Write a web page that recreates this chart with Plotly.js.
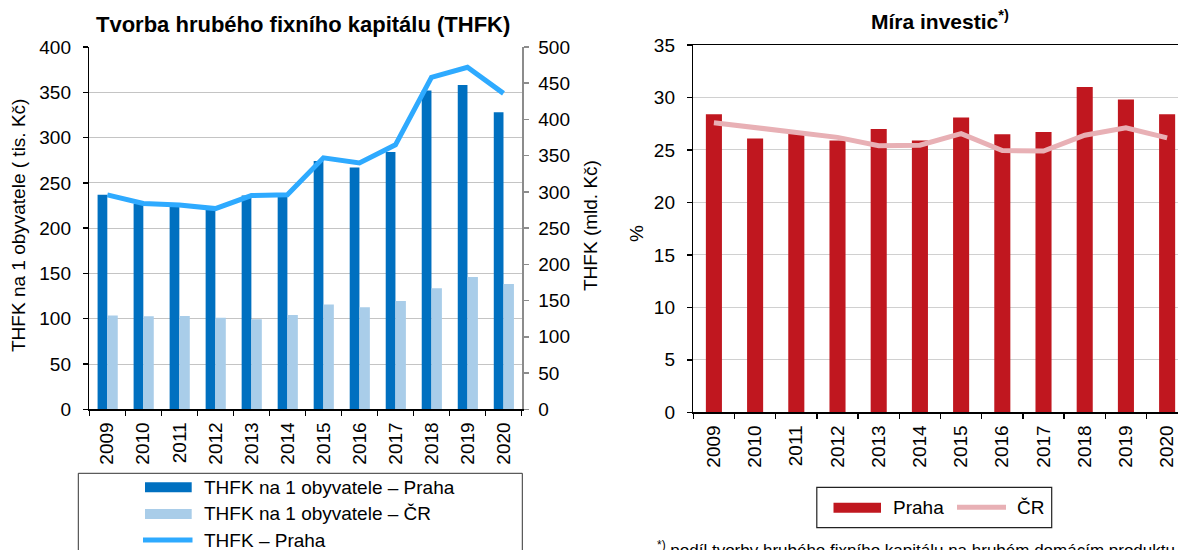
<!DOCTYPE html>
<html><head><meta charset="utf-8">
<script src="https://cdn.plot.ly/plotly-3.0.1.min.js"></script>
<style>html,body{margin:0;padding:0;background:#fff}#chart{width:1178px;height:550px}</style>
</head><body><div id="chart"></div>
<script>
const years = ['2009','2010','2011','2012','2013','2014','2015','2016','2017','2018','2019','2020'];
const thfkPerCapitaPraha = [237, 227, 225, 221, 236, 237, 274, 267, 284, 352, 358, 328];
const thfkPerCapitaCR = [103.5, 102.8, 103, 101, 99.5, 104, 115.6, 112.7, 119.7, 133.6, 146, 138.4];
const thfkPraha = [296, 284, 282, 277, 295, 296, 347, 340, 365, 458, 472, 436];
const investPraha = [28.4, 26.1, 26.6, 25.9, 27.0, 25.9, 28.1, 26.5, 26.7, 31.0, 29.8, 28.4];
const investCR = [27.6, 27.1, 26.7, 26.2, 25.4, 25.45, 26.55, 24.95, 24.9, 26.4, 27.1, 26.15];

const leftTitle = 'Tvorba hrubého fixního kapitálu (THFK)';
const rightTitle = 'Míra investic<sup>*)</sup>';
const leftYTitle = 'THFK na 1 obyvatele ( tis. Kč)';
const rightYTitle = 'THFK (mld. Kč)';
const pctTitle = '%';
const legendLeft = ['THFK na 1 obyvatele – Praha', 'THFK na 1 obyvatele – ČR', 'THFK – Praha'];
const legendRight = ['Praha', 'ČR'];
const footnote = '<sup>*)</sup> podíl tvorby hrubého fixního kapitálu na hrubém domácím produktu';

const W = 1178, H = 550;
const px = v => v / W;
const py = v => 1 - v / H;
const FONT = 'Liberation Sans, Arial, sans-serif';
const C_DARK = '#0070c0', C_LIGHT = '#a9cde9', C_LINE = '#2eaaff', C_RED = '#c0171f', C_PINK = '#e8b0b5';

const traces = [
  {type:'bar', x: years, y: thfkPerCapitaPraha, xaxis:'x', yaxis:'y', marker:{color:C_DARK}, width:0.27, offset:-0.27, hoverinfo:'y'},
  {type:'bar', x: years, y: thfkPerCapitaCR, xaxis:'x', yaxis:'y', marker:{color:C_LIGHT}, width:0.29, offset:0, hoverinfo:'y'},
  {type:'scatter', mode:'lines', x: years, y: thfkPraha, xaxis:'x', yaxis:'y2', line:{color:C_LINE, width:5}},
  {type:'bar', x: years, y: investPraha, xaxis:'x3', yaxis:'y3', marker:{color:C_RED}, width:0.39, offset:-0.195},
  {type:'scatter', mode:'lines', x: years, y: investCR, xaxis:'x3', yaxis:'y3', line:{color:C_PINK, width:5}}
];

const tickFont = {family: FONT, size: 19, color: '#000'};
const layout = {
  width: W, height: H,
  margin: {l:0, r:0, t:0, b:0},
  paper_bgcolor: '#fff', plot_bgcolor: 'rgba(0,0,0,0)',
  showlegend: false,
  barmode: 'overlay',
  font: {family: FONT, size: 19, color: '#000'},
  xaxis: {domain:[px(89.3), px(521.5)], type:'category', range:[-0.5, 11.5], anchor:'y',
    showline:true, linecolor:'#000', linewidth:1.5, ticks:'outside', tickson:'boundaries', ticklen:5, tickcolor:'#000', tickwidth:1.5,
    tickangle:-90, tickfont:tickFont, showgrid:false, ticklabelstandoff:4},
  yaxis: {domain:[py(409.3), py(47)], range:[0,400], dtick:50, anchor:'x',
    showline:true, linecolor:'#000', linewidth:1.5, ticks:'outside', ticklen:5, tickcolor:'#000', tickwidth:1.5,
    gridcolor:'#c4c4c4', gridwidth:1, zeroline:false, tickfont:tickFont, ticklabelstandoff:8},
  yaxis2: {overlaying:'y', side:'right', anchor:'x', range:[0,500], dtick:50,
    showline:true, linecolor:'#8c8c8c', linewidth:2, ticks:'outside', ticklen:5, tickcolor:'#8c8c8c', tickwidth:1.5,
    showgrid:false, zeroline:false, tickfont:tickFont, ticklabelstandoff:6},
  xaxis3: {domain:[px(693.3), 1], type:'category', range:[-0.5, 11.264], anchor:'y3',
    showline:true, mirror:true, linecolor:'#000', linewidth:1.5, ticks:'outside', tickson:'boundaries', ticklen:5, tickcolor:'#000', tickwidth:1.5,
    tickangle:-90, tickfont:tickFont, showgrid:false, ticklabelstandoff:4},
  yaxis3: {domain:[py(412.3), py(45)], range:[0,35], dtick:5, anchor:'x3',
    showline:true, linecolor:'#000', linewidth:1.5, ticks:'outside', ticklen:5, tickcolor:'#000', tickwidth:1.5,
    gridcolor:'#d0d0d0', gridwidth:1, zeroline:false, tickfont:tickFont, ticklabelstandoff:8},
  shapes: [
    {type:'rect', xref:'paper', yref:'paper', x0:px(78.3), x1:px(522.3), y0:py(473.3), y1:py(565), line:{color:'#333', width:1}, fillcolor:'rgba(0,0,0,0)'},
    {type:'rect', xref:'paper', yref:'paper', x0:px(145), x1:px(191.7), y0:py(482.3), y1:py(492.3), line:{width:0}, fillcolor:C_DARK},
    {type:'rect', xref:'paper', yref:'paper', x0:px(145), x1:px(191.7), y0:py(509), y1:py(519), line:{width:0}, fillcolor:C_LIGHT},
    {type:'line', xref:'paper', yref:'paper', x0:px(143), x1:px(192.5), y0:py(540), y1:py(540), line:{color:C_LINE, width:5}},
    {type:'rect', xref:'paper', yref:'paper', x0:px(816.8), x1:px(1051.7), y0:py(487.3), y1:py(527.7), line:{color:'#222', width:1.2}, fillcolor:'rgba(0,0,0,0)'},
    {type:'rect', xref:'paper', yref:'paper', x0:px(833.5), x1:px(881), y0:py(502.7), y1:py(512.7), line:{width:0}, fillcolor:C_RED},
    {type:'line', xref:'paper', yref:'paper', x0:px(957), x1:px(1006), y0:py(507.3), y1:py(507.3), line:{color:C_PINK, width:5}}
  ],
  annotations: [
    {text:leftTitle, xref:'paper', yref:'paper', x:px(94), y:py(24), xanchor:'left', yanchor:'middle', showarrow:false, font:{family:FONT, size:22, color:'#000', weight:'bold'}},
    {text:rightTitle, xref:'paper', yref:'paper', x:px(869), y:py(20), xanchor:'left', yanchor:'middle', showarrow:false, font:{family:FONT, size:21, color:'#000', weight:'bold'}},
    {text:leftYTitle, xref:'paper', yref:'paper', x:px(18), y:py(226), xanchor:'center', yanchor:'middle', textangle:-90, showarrow:false, font:{family:FONT, size:19, color:'#000'}},
    {text:rightYTitle, xref:'paper', yref:'paper', x:px(590), y:py(226), xanchor:'center', yanchor:'middle', textangle:-90, showarrow:false, font:{family:FONT, size:19, color:'#000'}},
    {text:pctTitle, xref:'paper', yref:'paper', x:px(636), y:py(234), xanchor:'center', yanchor:'middle', textangle:-90, showarrow:false, font:{family:FONT, size:19, color:'#000'}},
    {text:legendLeft[0], xref:'paper', yref:'paper', x:px(202), y:py(487.3), xanchor:'left', yanchor:'middle', showarrow:false, font:{family:FONT, size:19, color:'#000'}},
    {text:legendLeft[1], xref:'paper', yref:'paper', x:px(202), y:py(513.3), xanchor:'left', yanchor:'middle', showarrow:false, font:{family:FONT, size:19, color:'#000'}},
    {text:legendLeft[2], xref:'paper', yref:'paper', x:px(202), y:py(540), xanchor:'left', yanchor:'middle', showarrow:false, font:{family:FONT, size:19, color:'#000'}},
    {text:legendRight[0], xref:'paper', yref:'paper', x:px(890.5), y:py(507), xanchor:'left', yanchor:'middle', showarrow:false, font:{family:FONT, size:19, color:'#000'}},
    {text:legendRight[1], xref:'paper', yref:'paper', x:px(1014.7), y:py(507), xanchor:'left', yanchor:'middle', showarrow:false, font:{family:FONT, size:19, color:'#000'}},
    {text:footnote, xref:'paper', yref:'paper', x:px(655), y:py(549), xanchor:'left', yanchor:'middle', showarrow:false, font:{family:FONT, size:17, color:'#000'}}
  ]
};
Plotly.newPlot('chart', traces, layout, {staticPlot:true, displayModeBar:false});
</script></body></html>
